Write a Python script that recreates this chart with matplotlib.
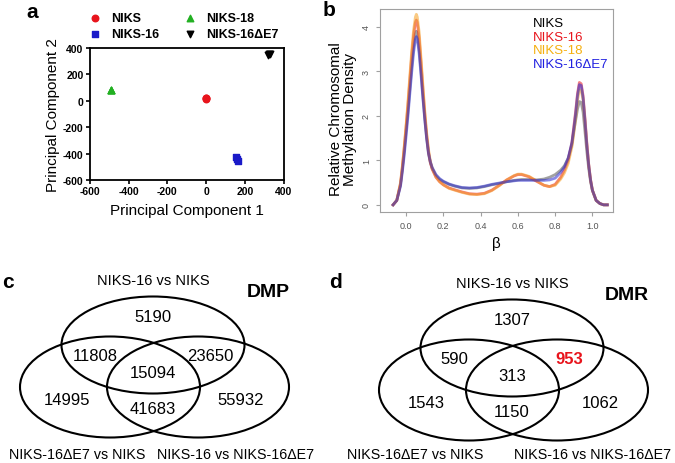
import numpy as np
import matplotlib
matplotlib.use('Agg')
import matplotlib.pyplot as plt
from matplotlib.patches import Ellipse

plt.rcParams['font.family'] = ['Liberation Sans', 'DejaVu Sans']
plt.rcParams['axes.unicode_minus'] = False

# ---- panel a: PCA ----
pca_groups = ['NIKS', 'NIKS-16', 'NIKS-18', 'NIKS-16ΔE7']
pca_pc1 = {'NIKS': [0, 2, -2], 'NIKS-16': [155, 165, 160],
           'NIKS-18': [-490, -488, -492], 'NIKS-16ΔE7': [318, 330, 325]}
pca_pc2 = {'NIKS': [20, 15, 22], 'NIKS-16': [-425, -455, -445],
           'NIKS-18': [80, 78, 82], 'NIKS-16ΔE7': [342, 355, 350]}
pca_colors = {'NIKS': '#e8141c', 'NIKS-16': '#1a1ac8', 'NIKS-18': '#22b022', 'NIKS-16ΔE7': 'black'}
pca_markers = {'NIKS': 'o', 'NIKS-16': 's', 'NIKS-18': '^', 'NIKS-16ΔE7': 'v'}

# ---- panel b: methylation density ----
beta = [-0.07, -0.05, -0.03, -0.02, -0.01, 0.0, 0.01, 0.02, 0.03, 0.04, 0.05, 0.055, 0.06, 0.07, 0.08,
        0.09, 0.10, 0.11, 0.12, 0.13, 0.14, 0.16, 0.18, 0.20, 0.23,
        0.26, 0.30, 0.34, 0.38, 0.42, 0.46, 0.50, 0.54, 0.58, 0.60,
        0.62, 0.66, 0.70, 0.74, 0.77, 0.80, 0.83, 0.85, 0.87, 0.89,
        0.90, 0.91, 0.92, 0.93, 0.94, 0.95, 0.96, 0.97, 0.98, 0.99, 1.00, 1.02, 1.04, 1.06, 1.08]
dens_niks = [0, 0.1, 0.45, 0.8, 1.2, 1.65, 2.1, 2.6, 3.1, 3.55, 3.85, 3.9, 3.85, 3.5, 3.0,
             2.45, 1.95, 1.5, 1.15, 0.95, 0.82, 0.66, 0.57, 0.52, 0.46,
             0.42, 0.38, 0.37, 0.38, 0.41, 0.45, 0.48, 0.52, 0.55, 0.56,
             0.57, 0.57, 0.56, 0.58, 0.62, 0.68, 0.78, 0.88, 1.05, 1.35,
             1.65, 1.9, 2.15, 2.32, 2.3, 2.08, 1.65, 1.2, 0.82, 0.52, 0.32, 0.1, 0.03, 0.0, 0.0]
dens_n16 = [0, 0.1, 0.48, 0.85, 1.28, 1.75, 2.25, 2.8, 3.35, 3.8, 4.1, 4.15, 4.1, 3.75, 3.2,
            2.6, 2.05, 1.58, 1.2, 0.95, 0.8, 0.62, 0.52, 0.45, 0.38,
            0.34, 0.29, 0.25, 0.24, 0.26, 0.33, 0.44, 0.56, 0.65, 0.68,
            0.68, 0.63, 0.53, 0.44, 0.41, 0.46, 0.62, 0.78, 1.0, 1.4,
            1.75, 2.1, 2.5, 2.75, 2.72, 2.45, 1.95, 1.4, 0.92, 0.57, 0.33, 0.1, 0.03, 0.0, 0.0]
dens_n18 = [0, 0.1, 0.5, 0.88, 1.32, 1.8, 2.32, 2.9, 3.45, 3.92, 4.22, 4.28, 4.22, 3.88, 3.3,
            2.7, 2.12, 1.63, 1.25, 0.98, 0.82, 0.63, 0.52, 0.45, 0.37,
            0.33, 0.28, 0.24, 0.23, 0.25, 0.32, 0.43, 0.56, 0.66, 0.69,
            0.69, 0.64, 0.54, 0.44, 0.41, 0.44, 0.58, 0.72, 0.93, 1.3,
            1.6, 1.95, 2.35, 2.58, 2.57, 2.35, 1.88, 1.35, 0.9, 0.56, 0.33, 0.1, 0.03, 0.0, 0.0]
dens_n16e7 = [0, 0.1, 0.42, 0.75, 1.12, 1.55, 2.0, 2.5, 2.98, 3.42, 3.72, 3.78, 3.73, 3.4, 2.92,
              2.4, 1.92, 1.5, 1.17, 0.97, 0.84, 0.68, 0.59, 0.53, 0.47,
              0.43, 0.39, 0.38, 0.39, 0.42, 0.46, 0.49, 0.52, 0.54, 0.55,
              0.55, 0.55, 0.55, 0.55, 0.56, 0.6, 0.73, 0.85, 1.05, 1.4,
              1.7, 2.05, 2.45, 2.7, 2.68, 2.4, 1.9, 1.35, 0.9, 0.56, 0.33, 0.1, 0.03, 0.0, 0.0]
dens_series = [('NIKS', dens_niks, '#555555', 'black'), ('NIKS-16', dens_n16, '#e8141c', '#e8141c'),
               ('NIKS-18', dens_n18, '#f5a020', '#f5b010'), ('NIKS-16ΔE7', dens_n16e7, '#2a2ad0', '#2020e0')]

# ---- panels c, d: Venn counts ----
dmp_counts = [5190, 11808, 23650, 15094, 14995, 41683, 55932]
dmr_counts = [1307, 590, 953, 313, 1543, 1150, 1062]
venn_sets = ['NIKS-16 vs NIKS', 'NIKS-16ΔE7 vs NIKS', 'NIKS-16 vs NIKS-16ΔE7']

fig = plt.figure(figsize=(6.75, 4.64), dpi=100)

# panel a
ax1 = fig.add_axes([0.133, 0.610, 0.287, 0.285])
for g in pca_groups:
    ax1.scatter(pca_pc1[g], pca_pc2[g], marker=pca_markers[g], color=pca_colors[g],
                s=22, label=g, zorder=3)
ax1.set_xlim(-600, 400)
ax1.set_ylim(-600, 400)
ax1.set_xticks([-600, -400, -200, 0, 200, 400])
ax1.set_yticks([-600, -400, -200, 0, 200, 400])
for s in ax1.spines.values():
    s.set_linewidth(1.3)
ax1.tick_params(direction='out', length=3, width=1.2, labelsize=7.5, pad=1.5)
for lab in ax1.get_xticklabels() + ax1.get_yticklabels():
    lab.set_fontweight('bold')
ax1.set_xlabel('Principal Component 1', fontsize=11, labelpad=5)
ax1.set_ylabel('Principal Component 2', fontsize=11, labelpad=2)
ax1.legend(ncol=2, loc='lower left', bbox_to_anchor=(-0.075, 1.0), frameon=False,
           prop={'weight': 'bold', 'size': 9}, handletextpad=0.3, columnspacing=1.4,
           labelspacing=0.3, borderpad=0.1, markerscale=1.0)

# panel b
ax2 = fig.add_axes([0.563, 0.541, 0.345, 0.4375])
for name, d, c, tc in dens_series:
    ax2.plot(beta, d, color=c, lw=2.0, alpha=0.55)
ax2.set_xlim(-0.14, 1.11)
ax2.set_ylim(-0.16, 4.4)
ax2.set_xticks([0.0, 0.2, 0.4, 0.6, 0.8, 1.0])
ax2.set_yticks([0, 1, 2, 3, 4])
ax2.set_yticklabels(['0', '1', '2', '3', '4'], rotation=90, va='center')
for s in ax2.spines.values():
    s.set_color('#a0a0a0')
    s.set_linewidth(0.8)
ax2.tick_params(colors='#a0a0a0', labelcolor='#555555', labelsize=6.5, length=3)
ax2.set_xlabel('β', fontsize=11, labelpad=4)
ax2.set_ylabel('Relative Chromosomal\nMethylation Density', fontsize=11,
               linespacing=1.0)
ax2.yaxis.set_label_coords(-0.1, 0.46)
for i, (name, d, c, tc) in enumerate(dens_series):
    ax2.text(0.655, 0.93 - i * 0.067, name, transform=ax2.transAxes, color=tc,
             fontsize=9.5, va='center')

# overlay in pixel coordinates for labels and Venn diagrams
ov = fig.add_axes([0, 0, 1, 1])
ov.set_xlim(0, 675)
ov.set_ylim(464, 0)
ov.axis('off')
ov.patch.set_alpha(0)

for lab, x, y in [('a', 32, 12), ('b', 329, 11), ('c', 8, 283), ('d', 336, 283)]:
    ov.text(x, y, lab, fontsize=15, fontweight='bold', ha='center', va='center')


def venn(cx, dy, counts, title, lab_dx, highlight=None):
    ell = [(cx, 346 + dy, 183, 97), (cx - 43, 388 + dy, 180, 101), (cx + 45, 388 + dy, 182, 101)]
    for ex, ey, w, h in ell:
        ov.add_patch(Ellipse((ex, ey), w, h, fill=False, lw=1.5, ec='black'))
    pos = [(cx, 318), (cx - 58, 357), (cx + 57, 357), (cx, 374),
           (cx - 86, 401), (cx, 410), (cx + 88, 401)]
    for i, (v, (px, py)) in enumerate(zip(counts, pos)):
        hl = (i == highlight)
        ov.text(px, py + dy, str(v), fontsize=12, ha='center', va='center',
                color='#e8141c' if hl else 'black', fontweight='bold' if hl else 'normal')
    ov.text(cx, 281 + dy, venn_sets[0], fontsize=10.5, ha='center', va='center')
    ov.text(cx + 115, 293 + dy, title, fontsize=14, fontweight='bold', ha='center', va='center')
    ov.text(cx + lab_dx[0], 455, venn_sets[1], fontsize=10.3, ha='center', va='center')
    ov.text(cx + lab_dx[1], 455, venn_sets[2], fontsize=10.3, ha='center', va='center')


venn(153, 0, dmp_counts, 'DMP', (-76, 83))
venn(512, 3, dmr_counts, 'DMR', (-97, 81), highlight=2)

fig.savefig('out.png', dpi=100)
